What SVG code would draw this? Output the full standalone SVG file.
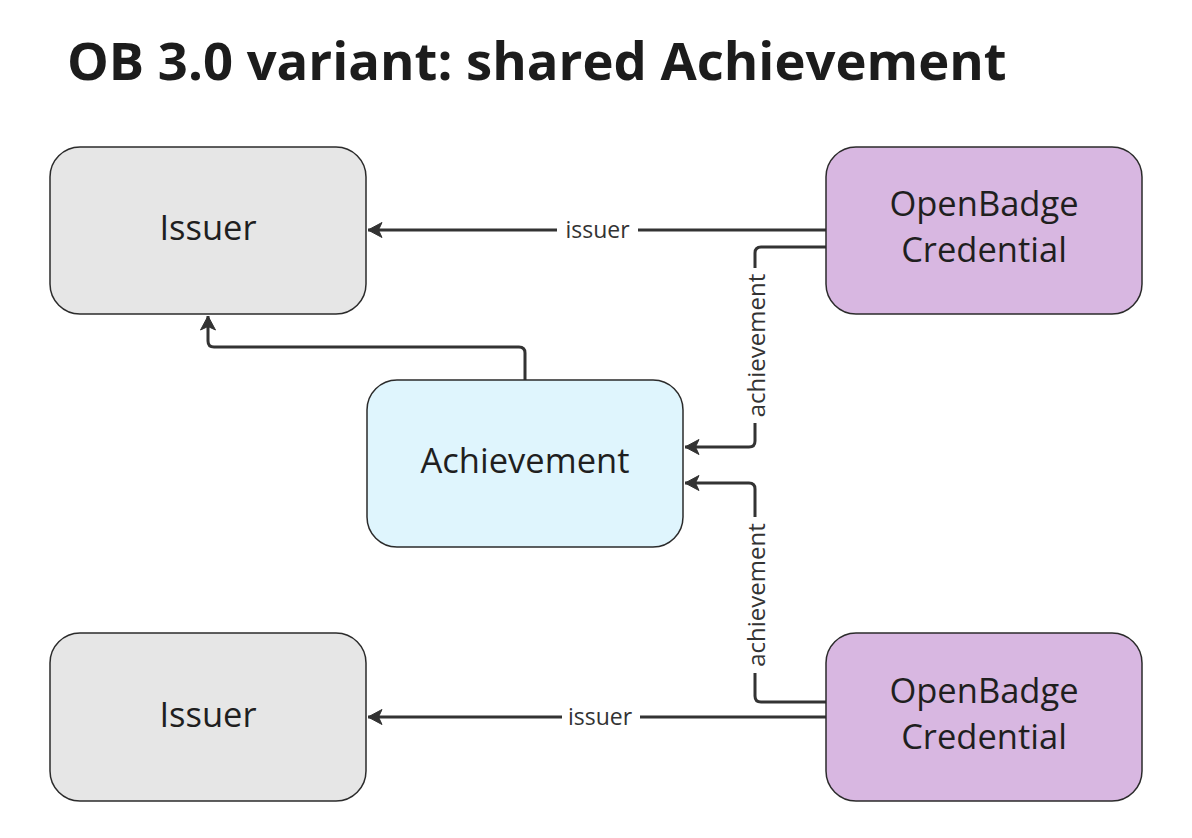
<svg xmlns="http://www.w3.org/2000/svg" width="1192" height="838" viewBox="0 0 1192 838">
<style>
.node{stroke:#2b2b2b;stroke-width:1.5}
.issuer{fill:#e6e6e6}
.ob{fill:#d8b7e1}
.ach{fill:#dff5fd}
.nt{font-family:"Open Sans","Noto Sans",sans-serif;font-size:34.5px;fill:#1f1f1f;text-anchor:middle}
.edge{fill:none;stroke:#333333;stroke-width:3;stroke-linejoin:round}
.lbl{font-family:"Open Sans","Noto Sans",sans-serif;font-size:23px;fill:#333333;text-anchor:middle;dominant-baseline:central}
.vl{font-size:24px}
.title{font-family:"Open Sans","Noto Sans",sans-serif;font-weight:bold;font-size:52.6px;fill:#1c1c1c}
</style>
<defs>
<marker id="arr" markerUnits="userSpaceOnUse" markerWidth="20" markerHeight="20" viewBox="-16 -10 20 20" refX="0" refY="0" orient="auto">
<path d="M0,0 L-14,-7.5 L-10.5,0 L-14,7.5 Z" fill="#333333" stroke="#333333" stroke-width="1" stroke-linejoin="round"/>
</marker>
</defs>
<rect width="1192" height="838" fill="#ffffff"/>
<text class="title" x="67" y="80">OB 3.0 variant: shared Achievement</text>

<g id="connectors">
<path class="edge" d="M826,230 H638 M557,230 H368" marker-end="url(#arr)"/>
<text class="lbl" x="597.5" y="229">issuer</text>
<path class="edge" d="M826,247 H761 Q755,247 755,253 V268 M755,423 V441 Q755,447 749,447 H685" marker-end="url(#arr)"/>
<text class="lbl vl" transform="translate(755,345.5) rotate(-90)" x="0" y="0">achievement</text>
<path class="edge" d="M525,380 V353 Q525,347 519,347 H214 Q208,347 208,341 V316" marker-end="url(#arr)"/>
<path class="edge" d="M826,702 H761 Q755,702 755,696 V673 M755,517 V489 Q755,483 749,483 H685" marker-end="url(#arr)"/>
<text class="lbl vl" transform="translate(755,595) rotate(-90)" x="0" y="0">achievement</text>
<path class="edge" d="M826,717 H640 M562,717 H368" marker-end="url(#arr)"/>
<text class="lbl" x="600" y="716">issuer</text>
</g>

<g id="issuer1">
<rect class="node issuer" x="50" y="147" width="316" height="167" rx="30"/>
<text class="nt" x="208" y="240">Issuer</text>
</g>
<g id="ob1">
<rect class="node ob" x="826" y="147" width="316" height="167" rx="30"/>
<text class="nt" x="984" y="216">OpenBadge</text>
<text class="nt" x="984" y="262">Credential</text>
</g>
<g id="achievement">
<rect class="node ach" x="367" y="380" width="316" height="167" rx="30"/>
<text class="nt" x="525" y="473">Achievement</text>
</g>
<g id="issuer2">
<rect class="node issuer" x="50" y="633" width="316" height="168" rx="30"/>
<text class="nt" x="208" y="727">Issuer</text>
</g>
<g id="ob2">
<rect class="node ob" x="826" y="633" width="316" height="168" rx="30"/>
<text class="nt" x="984" y="703">OpenBadge</text>
<text class="nt" x="984" y="749">Credential</text>
</g>
</svg>
